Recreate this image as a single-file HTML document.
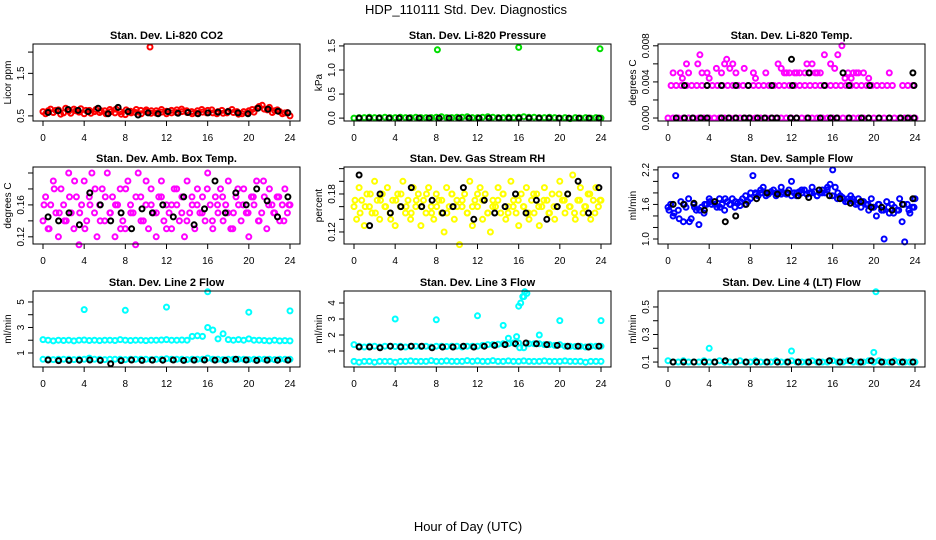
<!DOCTYPE html>
<html><head><meta charset="utf-8"><style>
body{margin:0;background:#fff}
svg{display:block;font-family:"Liberation Sans",sans-serif}
</style></head><body>
<svg id="chart" width="936" height="540" viewBox="0 0 936 540" xmlns="http://www.w3.org/2000/svg">
<rect width="936" height="540" fill="#fff"/>
<text x="466" y="14" text-anchor="middle" font-size="13">HDP_110111  Std. Dev. Diagnostics</text>
<text x="468" y="531" text-anchor="middle" font-size="13">Hour of Day (UTC)</text>
</svg>
<script>
// ---- data ----
const xTicks=[0,4,8,12,16,20,24];
const co2Red=[0.60,0.62,0.58,0.64,0.57,0.61,0.66,0.59,0.55,0.63,0.60,0.58,0.62,0.65,0.57,0.60,0.53,0.61,0.58,0.63,0.60,0.56,0.62,0.59,0.61,0.57,0.64,0.60,0.58,0.55,0.62,0.59,0.63,0.57,0.60,0.56,0.61,0.58,0.54,0.60,0.62,0.59,0.72,0.66,0.70,0.62,0.60,0.57,0.50];
const co2Red2=[0.55,0.66,0.63,0.54,0.68,0.56,0.62,0.67,0.63,0.56,0.65,0.62,0.55,0.60,0.66,0.54,0.64,0.57,0.65,0.55,0.64,0.62,0.56,0.65,0.55,0.63,0.58,0.66,0.62,0.60,0.56,0.65,0.57,0.64,0.55,0.63,0.57,0.65,0.60,0.55,0.57,0.65,0.68,0.75,0.64,0.58,0.64,0.55,0.58];
const co2Black=[0.58,0.62,0.65,0.63,0.60,0.68,0.55,0.70,0.60,0.52,0.57,0.55,0.60,0.56,0.58,0.55,0.57,0.59,0.60,0.57,0.55,0.68,0.66,0.61,0.57];
const co2OutX=[10.4]; const co2OutY=[2.12];
const presGreen=[0.0,0.01,0.01,0.02,0.01,0.01,0.02,0.01,0.01,0.02,0.01,0.01,0.02,0.01,0.01,0.01,0.02,0.03,0.01,0.01,0.02,0.02,0.03,0.01,0.01,0.02,0.03,0.02,0.01,0.01,0.02,0.01,0.02,0.03,0.02,0.02,0.01,0.01,0.02,0.01,0.0,0.01,-0.01,0.01,0.0,0.01,0.0,0.01,0.0];
const presBlack=[0,0,0,0,0,0,0,0,0,0,0,0,0,0,0,0,0,0,0,0,0,0,0,0,0];
const presOutX=[8.1,16,23.9]; const presOutY=[1.42,1.47,1.44];
const tempZero=[0,0,0,0,0,0,0,0,0,0,0,0,0,0,0,0,0,0,0,0,0,0,0,0,0,0,0,0,0,0,0,0,0,0,0,0,0,0,0,0,0,0,0,0,0,0,0,0,0];
const tempMidX=[0.3,0.8,1.3,1.8,2.3,2.8,3.3,3.8,4.3,4.8,5.3,5.8,6.3,6.8,7.3,7.8,8.3,8.8,9.3,9.8,10.3,10.8,11.3,11.8,12.3,12.8,13.3,13.8,14.3,14.8,15.3,15.8,16.3,16.8,17.3,17.8,18.3,18.8,19.3,19.8,20.3,20.8,21.3,21.8,22.8,23.3,23.8];
const tempMidY=[0.0036,0.0036,0.0036,0.0036,0.0036,0.0036,0.0036,0.0036,0.0036,0.0036,0.0036,0.0036,0.0036,0.0036,0.0036,0.0036,0.0036,0.0036,0.0036,0.0036,0.0036,0.0036,0.0036,0.0036,0.0036,0.0036,0.0036,0.0036,0.0036,0.0036,0.0036,0.0036,0.0036,0.0036,0.0036,0.0036,0.0036,0.0036,0.0036,0.0036,0.0036,0.0036,0.0036,0.0036,0.0036,0.0036,0.0036];
const tempHighX=[0.5,1.2,1.4,1.8,2.0,2.9,3.1,3.3,3.8,4.0,4.7,5.2,5.5,5.7,6.0,6.3,6.6,7.4,8.3,8.5,9.5,10.7,11.0,11.5,12.5,13.5,14.0,14.5,15.2,15.8,16.2,16.5,16.9,17.2,17.8,18.3,19.5,21.5,11.3,11.8,12.3,12.8,13.3,13.8,14.3,14.8,17.5,18.0,18.5,19.0];
const tempHighY=[0.005,0.005,0.0044,0.006,0.005,0.006,0.007,0.005,0.005,0.0044,0.0055,0.005,0.006,0.0065,0.0055,0.006,0.005,0.0055,0.005,0.0044,0.005,0.006,0.0055,0.005,0.005,0.006,0.006,0.005,0.007,0.006,0.0055,0.007,0.008,0.0044,0.0044,0.005,0.0044,0.005,0.005,0.005,0.005,0.005,0.005,0.005,0.005,0.005,0.005,0.005,0.005,0.005];
const tempBlackX=[0.8,1.6,2.4,3.2,3.8,5.2,5.9,6.6,7.4,7.9,8.7,9.4,10.1,10.6,12.0,11.9,12.5,13.6,14.8,15.8,16.4,17.0,17.6,18.8,19.5,20.5,21.5,22.6,23.3,23.9,23.8,13.7,1.6,3.8,5.2,6.6,7.8,10.1,12.1,15.2,17.6,19.6,23.9];
const tempBlackY=[0,0,0,0,0,0,0,0,0,0,0,0,0,0,0.0065,0,0,0,0,0,0,0.005,0,0,0,0,0,0,0,0,0.005,0.005,0.0036,0.0036,0.0036,0.0036,0.0036,0.0036,0.0036,0.0036,0.0036,0.0036,0.0036];
const ambMag=[0.14,0.17,0.13,0.16,0.19,0.15,0.12,0.18,0.16,0.14,0.20,0.15,0.13,0.17,0.11,0.16,0.19,0.14,0.17,0.20,0.15,0.12,0.16,0.18,0.14,0.20,0.15,0.17,0.12,0.16,0.18,0.14,0.13,0.19,0.16,0.15,0.11,0.20,0.17,0.14,0.16,0.13,0.18,0.15,0.12,0.17,0.19,0.14,0.16,0.15,0.13,0.18,0.16,0.14,0.17,0.12,0.19,0.15,0.16,0.13,0.18,0.15,0.17,0.14,0.20,0.16,0.13,0.17,0.15,0.18,0.14,0.16,0.19,0.13,0.15,0.17,0.16,0.14,0.18,0.15,0.12,0.17,0.16,0.19,0.14,0.15,0.17,0.13,0.18,0.16,0.15,0.17,0.14,0.16,0.18,0.15,0.16];
const ambMag2=[0.16,0.13,0.18,0.15,0.14,0.17,0.19,0.15,0.13,0.16,0.18,0.14,0.17,0.15,0.16,0.13,0.18,0.15,0.17,0.14,0.19,0.16,0.15,0.17,0.13,0.16,0.18,0.15,0.14,0.17,0.16,0.15,0.18,0.14,0.16,0.17,0.15,0.13,0.18,0.16,0.15,0.17,0.14,0.19,0.16,0.15,0.17,0.14,0.16];
const ambBlack=[0.145,0.14,0.15,0.135,0.175,0.16,0.14,0.15,0.13,0.155,0.15,0.16,0.145,0.17,0.135,0.155,0.19,0.15,0.175,0.16,0.18,0.165,0.145,0.17];
const rhYel=[0.16,0.14,0.19,0.17,0.13,0.18,0.16,0.15,0.20,0.17,0.14,0.18,0.16,0.19,0.15,0.17,0.13,0.18,0.16,0.20,0.15,0.17,0.14,0.19,0.16,0.18,0.13,0.17,0.15,0.19,0.16,0.14,0.18,0.17,0.15,0.12,0.19,0.16,0.18,0.14,0.17,0.10,0.16,0.18,0.15,0.20,0.13,0.17,0.16,0.19,0.14,0.18,0.15,0.12,0.17,0.16,0.19,0.15,0.18,0.14,0.16,0.20,0.17,0.15,0.13,0.18,0.16,0.19,0.14,0.17,0.15,0.18,0.13,0.16,0.19,0.17,0.15,0.18,0.14,0.16,0.20,0.17,0.15,0.18,0.16,0.21,0.14,0.17,0.19,0.15,0.16,0.18,0.14,0.17,0.19,0.16,0.17];
const rhYel2=[0.17,0.15,0.16,0.18,0.15,0.17,0.16,0.14,0.17,0.18,0.16,0.15,0.17,0.16,0.18,0.15,0.16,0.17,0.15,0.18,0.16,0.17,0.15,0.16,0.18,0.17,0.15,0.16,0.17,0.18,0.15,0.16,0.17,0.16,0.15,0.18,0.16,0.17,0.15,0.16,0.18,0.17,0.16,0.15,0.17,0.16,0.18,0.15,0.17];
const rhBlack=[0.21,0.13,0.18,0.15,0.16,0.19,0.16,0.17,0.15,0.16,0.19,0.14,0.17,0.15,0.16,0.18,0.15,0.17,0.14,0.16,0.18,0.20,0.15,0.19];
const flowBlue=[1.55,1.6,1.4,2.1,1.5,1.65,1.3,1.55,1.7,1.35,1.6,1.5,1.25,1.55,1.45,1.6,1.7,1.6,1.65,1.55,1.7,1.6,1.5,1.65,1.6,1.7,1.55,1.62,1.58,1.7,1.6,1.65,1.7,2.1,1.8,1.75,1.85,1.9,1.8,1.78,1.82,1.85,1.75,1.8,1.9,1.8,1.78,1.85,2.0,1.8,1.75,1.82,1.8,1.85,1.78,1.8,1.9,1.82,1.75,1.8,1.85,1.8,1.9,1.95,2.2,1.9,1.8,1.75,1.7,1.65,1.7,1.75,1.65,1.6,1.7,1.55,1.65,1.6,1.5,1.7,1.55,1.4,1.6,1.5,1.0,1.65,1.45,1.6,1.55,1.5,1.7,1.3,0.95,1.6,1.45,1.55,1.7];
const flowBlue2=[1.5,1.45,1.35,1.6,1.3,1.55,1.5,1.6,1.65,1.6,1.55,1.7,1.6,1.65,1.65,1.75,1.8,1.78,1.8,1.75,1.82,1.8,1.78,1.8,1.75,1.8,1.85,1.78,1.8,1.75,1.8,1.85,1.75,1.7,1.72,1.65,1.7,1.62,1.65,1.6,1.55,1.6,1.5,1.55,1.45,1.5,1.6,1.5,1.55];
const flowBlack=[1.6,1.6,1.62,1.5,1.65,1.3,1.4,1.6,1.7,1.8,1.78,1.8,1.75,1.72,1.85,1.75,1.7,1.62,1.65,1.55,1.55,1.5,1.6,1.7];
const l2Upper=[2.05,2.0,1.95,2.0,1.98,2.0,1.95,2.0,2.02,1.98,2.0,1.97,2.0,2.0,1.98,2.05,2.0,1.98,2.0,2.0,1.97,2.0,2.0,2.02,2.05,2.0,2.0,2.02,2.0,2.3,2.35,2.3,3.0,2.8,2.1,2.5,2.05,2.0,2.05,2.0,2.1,2.0,2.0,1.98,1.95,2.0,1.95,1.97,1.95];
const l2Lower=[0.5,0.5,0.48,0.5,0.5,0.5,0.48,0.5,0.5,0.6,0.5,0.5,0.48,0.5,0.5,0.5,0.48,0.5,0.5,0.5,0.5,0.48,0.5,0.5,0.55,0.5,0.5,0.5,0.48,0.5,0.5,0.5,0.6,0.5,0.5,0.48,0.5,0.5,0.5,0.5,0.48,0.5,0.5,0.5,0.5,0.48,0.5,0.5,0.5];
const l2Black=[0.45,0.4,0.42,0.43,0.45,0.42,0.15,0.4,0.45,0.42,0.44,0.43,0.45,0.42,0.44,0.45,0.44,0.43,0.5,0.45,0.42,0.44,0.43,0.44];
const l2OutX=[4,8,12,16,20,24]; const l2OutY=[4.4,4.35,4.6,5.8,4.2,4.3];
const l3Upper=[1.4,1.3,1.25,1.3,1.3,1.25,1.3,1.3,1.28,1.3,1.25,1.3,1.3,1.28,1.3,1.25,1.3,1.3,1.28,1.3,1.3,1.25,1.3,1.3,1.3,1.35,1.4,1.4,1.42,1.45,1.45,1.5,1.5,1.2,1.45,1.45,1.45,1.4,1.4,1.35,1.4,1.3,1.3,1.28,1.3,1.25,1.3,1.3,1.3];
const l3Lower=[0.35,0.3,0.35,0.35,0.3,0.35,0.35,0.35,0.3,0.35,0.35,0.38,0.35,0.35,0.35,0.4,0.35,0.35,0.38,0.35,0.35,0.35,0.4,0.35,0.38,0.35,0.35,0.4,0.35,0.35,0.38,0.35,0.35,0.38,0.35,0.35,0.35,0.38,0.35,0.35,0.35,0.38,0.35,0.35,0.35,0.3,0.35,0.35,0.35];
const l3Black=[1.25,1.25,1.2,1.3,1.25,1.3,1.3,1.2,1.25,1.25,1.3,1.25,1.3,1.35,1.4,1.45,1.5,1.45,1.4,1.35,1.3,1.3,1.25,1.3];
const l3OutX=[4,8,12,14.5,15,15.8,16.0,16.2,16.4,16.6,16.8,16.1,18,20,24,16.5]; const l3OutY=[3.0,2.95,3.2,2.6,1.8,1.9,3.8,4.0,4.4,4.7,4.6,1.2,2.0,2.9,2.9,4.4];
const l4Cyan=[0.11,0.1,0.1,0.11,0.1,0.1,0.1,0.11,0.1,0.1,0.11,0.1,0.1,0.1,0.11,0.1,0.1,0.11,0.1,0.1,0.1,0.11,0.1,0.1,0.11,0.1,0.1,0.1,0.11,0.1,0.1,0.1,0.11,0.1,0.1,0.11,0.1,0.1,0.1,0.11,0.1,0.11,0.1,0.1,0.11,0.1,0.1,0.1,0.1];
const l4Black=[0.1,0.1,0.1,0.1,0.1,0.11,0.1,0.1,0.1,0.1,0.1,0.1,0.1,0.1,0.1,0.11,0.1,0.11,0.1,0.11,0.1,0.1,0.1,0.1];
const l4OutX=[4,12,20,20.2]; const l4OutY=[0.2,0.18,0.17,0.61];

// ---- layout ----
const svg=document.getElementById('chart');
const NS='http://www.w3.org/2000/svg';
const colX0=[43,354,668];
const rowY=[[44,121],[167,244],[291,367]];
const pxPerHour=247/24;
function mk(tag,attrs,parent){const e=document.createElementNS(NS,tag);for(const k in attrs)e.setAttribute(k,attrs[k]);(parent||svg).appendChild(e);return e;}
function grid(arr,a,b){return arr.map((_,i)=>a+i*(b-a)/(arr.length-1));}
function blackX(arr){return arr.map((_,i)=>0.5+i*23.3/(arr.length-1));}

const panels=[
 {name:'co2',title:'Stan. Dev. Li-820 CO2',ylab:'Licor ppm',ymin:0.38,ymax:2.19,ticks:[0.5,1,1.5,2],labels:['0.5','','1.5',''],
  series:[{x:grid(co2Red,0,24),y:co2Red,c:'#ff0000'},{x:grid(co2Red2,0.25,23.75),y:co2Red2,c:'#ff0000'},{x:blackX(co2Black),y:co2Black,c:'#000'},{x:co2OutX,y:co2OutY,c:'#ff0000'}]},
 {name:'pressure',title:'Stan. Dev. Li-820 Pressure',ylab:'kPa',ymin:-0.06,ymax:1.54,ticks:[0,0.5,1,1.5],labels:['0.0','0.5','1.0','1.5'],
  series:[{x:grid(presGreen,0,24),y:presGreen,c:'#00dd00'},{x:blackX(presBlack),y:presBlack,c:'#000'},{x:presOutX,y:presOutY,c:'#00dd00'}]},
 {name:'temp',title:'Stan. Dev. Li-820 Temp.',ylab:'degrees C',ymin:-0.00033,ymax:0.0082,ticks:[0,0.002,0.004,0.006,0.008],labels:['0.000','','0.004','','0.008'],
  series:[{x:grid(tempZero,0,24),y:tempZero,c:'#ff00ff'},{x:tempMidX,y:tempMidY,c:'#ff00ff'},{x:tempHighX,y:tempHighY,c:'#ff00ff'},{x:tempBlackX,y:tempBlackY,c:'#000'}]},
 {name:'amb-box-temp',title:'Stan. Dev. Amb. Box Temp.',ylab:'degrees C',ymin:0.111,ymax:0.2075,ticks:[0.12,0.14,0.16,0.18,0.20],labels:['0.12','','0.16','',''],
  series:[{x:grid(ambMag,0,24),y:ambMag,c:'#ff00ff'},{x:grid(ambMag2,0.1,23.9),y:ambMag2,c:'#ff00ff'},{x:blackX(ambBlack),y:ambBlack,c:'#000'}]},
 {name:'gas-stream-rh',title:'Stan. Dev. Gas Stream RH',ylab:'percent',ymin:0.101,ymax:0.2226,ticks:[0.12,0.14,0.16,0.18,0.20,0.22],labels:['0.12','','','0.18','',''],
  series:[{x:grid(rhYel,0,24),y:rhYel,c:'#ffff00'},{x:grid(rhYel2,0.1,23.9),y:rhYel2,c:'#ffff00'},{x:blackX(rhBlack),y:rhBlack,c:'#000'}]},
 {name:'sample-flow',title:'Stan. Dev. Sample Flow',ylab:'ml/min',ymin:0.913,ymax:2.25,ticks:[1.0,1.2,1.4,1.6,1.8,2.0,2.2],labels:['1.0','','','1.6','','','2.2'],
  series:[{x:grid(flowBlue,0,24),y:flowBlue,c:'#0000ff'},{x:grid(flowBlue2,0.1,23.9),y:flowBlue2,c:'#0000ff'},{x:blackX(flowBlack),y:flowBlack,c:'#000'}]},
 {name:'line2-flow',title:'Stan. Dev. Line 2 Flow',ylab:'ml/min',ymin:-0.1,ymax:5.86,ticks:[1,2,3,4,5],labels:['1','','3','','5'],
  series:[{x:grid(l2Upper,0,24),y:l2Upper,c:'#00ffff'},{x:grid(l2Lower,0,24),y:l2Lower,c:'#00ffff'},{x:blackX(l2Black),y:l2Black,c:'#000'},{x:l2OutX,y:l2OutY,c:'#00ffff'}]},
 {name:'line3-flow',title:'Stan. Dev. Line 3 Flow',ylab:'ml/min',ymin:0,ymax:4.75,ticks:[1,2,3,4],labels:['1','2','3','4'],
  series:[{x:grid(l3Upper,0,24),y:l3Upper,c:'#00ffff'},{x:grid(l3Lower,0,24),y:l3Lower,c:'#00ffff'},{x:blackX(l3Black),y:l3Black,c:'#000'},{x:l3OutX,y:l3OutY,c:'#00ffff'}]},
 {name:'line4-flow',title:'Stan. Dev. Line 4 (LT) Flow',ylab:'ml/min',ymin:0.064,ymax:0.616,ticks:[0.1,0.2,0.3,0.4,0.5],labels:['0.1','','0.3','','0.5'],
  series:[{x:grid(l4Cyan,0,24),y:l4Cyan,c:'#00ffff'},{x:blackX(l4Black),y:l4Black,c:'#000'},{x:l4OutX,y:l4OutY,c:'#00ffff'}]}
];

panels.forEach((p,idx)=>{
  const col=idx%3,row=Math.floor(idx/3);
  const x0=colX0[col],top=rowY[row][0],bot=rowY[row][1];
  const left=x0-10,right=x0+257;
  const xs=h=>x0+h*pxPerHour;
  const ys=v=>bot-(v-p.ymin)/(p.ymax-p.ymin)*(bot-top);
  const g=mk('g',{});
  
  
  const t=mk('text',{x:(left+right)/2,y:top-5,'text-anchor':'middle','font-size':'11','font-weight':'bold'},g);
  
  
  t.textContent=p.title;
  const pts=mk('g',{fill:'none','stroke-width':'2'},g);
  
  
  p.series.forEach(s=>{
    s.y.forEach((v,i)=>{
      const c=mk('circle',{cx:xs(s.x[i]).toFixed(1),cy:ys(v).toFixed(1),r:'2.5',stroke:s.c},pts);
      
      
    });
  });
  const box=mk('rect',{x:left,y:top,width:right-left,height:bot-top,fill:'none',stroke:'#000','stroke-width':'1'},g);
  
  
  const xa=mk('g',{stroke:'#000'},g);
  
  
  mk('line',{x1:xs(xTicks[0]),x2:xs(xTicks[xTicks.length-1]),y1:bot,y2:bot},xa);
  xTicks.forEach(h=>{
    mk('line',{x1:xs(h),x2:xs(h),y1:bot,y2:bot+5},xa);
    const l=mk('text',{x:xs(h),y:bot+20,'text-anchor':'middle','font-size':'10',stroke:'none',fill:'#000'},xa);
    
    
    l.textContent=h;
  });
  const ya=mk('g',{stroke:'#000'},g);
  
  
  mk('line',{x1:left,x2:left,y1:ys(p.ticks[0]),y2:ys(p.ticks[p.ticks.length-1])},ya);
  p.ticks.forEach((v,i)=>{
    const y=ys(v);
    mk('line',{x1:left-5,x2:left,y1:y,y2:y},ya);
    if(p.labels[i]){
      const l=mk('text',{x:left-9,y:y,'text-anchor':'middle','font-size':'10',stroke:'none',fill:'#000',transform:`rotate(-90 ${left-9} ${y})`},ya);
      
      
      l.textContent=p.labels[i];
    }
  });
  const yl=mk('text',{x:left-22,y:(top+bot)/2,'text-anchor':'middle','font-size':'10',transform:`rotate(-90 ${left-22} ${(top+bot)/2})`},g);
  
  
  yl.textContent=p.ylab;
});
</script>
</body></html>
